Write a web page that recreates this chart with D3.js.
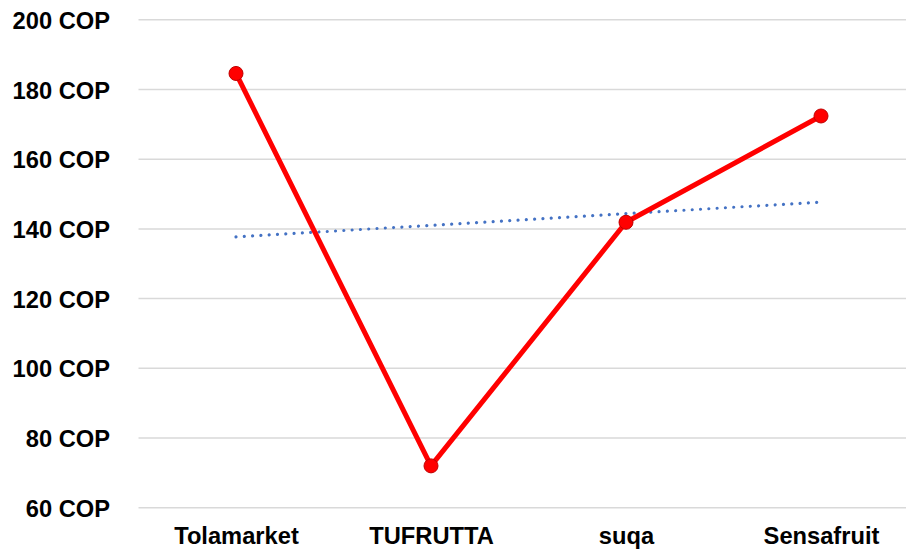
<!DOCTYPE html>
<head>
    <meta charset="utf-8">
    <script src="https://cdn.jsdelivr.net/npm/d3@7"></script>
    <style type="text/css">
        body {
            margin: 0;
            background: #fff;
        }
        #chart text {
            font-family: "Liberation Sans", Arial, sans-serif;
            font-weight: bold;
            font-size: 23.7px;
            fill: #000;
        }
        .grid line {
            stroke: #d9d9d9;
            stroke-width: 1.5px;
        }
    </style>
</head>
<body>
    <div id="chart"></div>
</body>
</html>

<script type="text/javascript">
    // data
    var categories = ["Tolamarket", "TUFRUTTA", "suqa", "Sensafruit"];
    var prices = [184.6, 72.0, 141.9, 172.4];
    var trend = [137.7, 147.7]; // linear trend at first and last category
    var yTicks = [60, 80, 100, 120, 140, 160, 180, 200];

    var width = 906, height = 552;

    var svg = d3.select('#chart').append("svg")
        .attr("width", width)
        .attr("height", height);

    var x = d3.scalePoint()
        .domain(categories)
        .range([138.5, 918.5])
        .padding(0.5);

    var y = d3.scaleLinear()
        .domain([60, 200])
        .range([507.7, 19.8]);

    // gridlines
    svg.append("g")
        .attr("class", "grid")
        .selectAll("line")
        .data(yTicks)
        .enter().append("line")
        .attr("x1", 138.5)
        .attr("x2", 918.5)
        .attr("y1", function(d) { return y(d); })
        .attr("y2", function(d) { return y(d); });

    // y labels
    var yAxis = svg.append("g")
        .attr("transform", "translate(110,0)")
        .call(d3.axisLeft(y).tickValues(yTicks).tickSize(0).tickPadding(0)
            .tickFormat(function(d) { return d + " COP"; }));
    yAxis.select(".domain").remove();
    yAxis.selectAll("text").attr("dy", "0.36em");

    // x labels
    var xAxis = svg.append("g")
        .attr("transform", "translate(0,544)")
        .call(d3.axisBottom(x).tickSize(0).tickPadding(0));
    xAxis.select(".domain").remove();
    xAxis.selectAll("text").attr("dy", "0");

    // trend line (dotted)
    var trendPts = [[categories[0], trend[0]], [categories[categories.length - 1], trend[1]]];
    svg.append("path")
        .datum(trendPts)
        .attr("fill", "none")
        .attr("stroke", "#4472C4")
        .attr("stroke-width", 3.2)
        .attr("stroke-linecap", "round")
        .attr("stroke-dasharray", "0.01 8.3")
        .attr("d", d3.line()
            .x(function(d) { return x(d[0]); })
            .y(function(d) { return y(d[1]); }));

    // price line
    svg.append("path")
        .datum(prices)
        .attr("fill", "none")
        .attr("stroke", "#FF0000")
        .attr("stroke-width", 5)
        .attr("stroke-linejoin", "round")
        .attr("d", d3.line()
            .x(function(d, i) { return x(categories[i]); })
            .y(function(d) { return y(d); }));

    svg.append("g")
        .selectAll("circle")
        .data(prices)
        .enter().append("circle")
        .attr("cx", function(d, i) { return x(categories[i]); })
        .attr("cy", function(d) { return y(d); })
        .attr("r", 7)
        .attr("fill", "#FF0000")
        .attr("stroke", "#C00000")
        .attr("stroke-width", 1);
</script>
